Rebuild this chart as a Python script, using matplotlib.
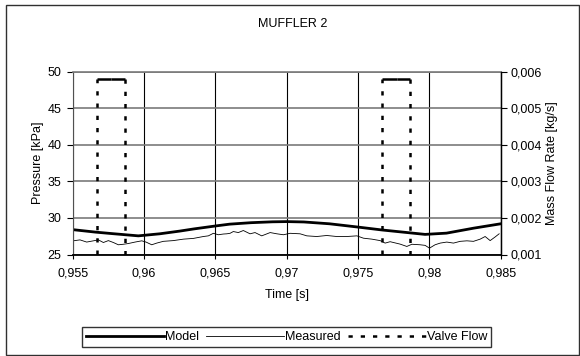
import matplotlib
matplotlib.use("Agg")
import matplotlib.pyplot as plt
from matplotlib.patches import Rectangle
from matplotlib.ticker import FuncFormatter

plt.rcParams["font.family"] = ["Liberation Sans", "DejaVu Sans"]
plt.rcParams["font.size"] = 9

# values
model_t = [0.955, 0.9566, 0.9578, 0.9587, 0.9596, 0.9611, 0.9625, 0.9635, 0.965, 0.9660,
           0.9675, 0.9690, 0.9700, 0.9712, 0.9730, 0.9750, 0.9767, 0.9787, 0.9797, 0.9812,
           0.9831, 0.9850]
model_p = [28.4, 28.06, 27.85, 27.7, 27.55, 27.83, 28.2, 28.5, 28.9, 29.15,
           29.35, 29.47, 29.5, 29.45, 29.2, 28.75, 28.35, 27.95, 27.75, 27.92,
           28.6, 29.2]

measured_t = [0.95504, 0.95551, 0.95598, 0.95645, 0.9568, 0.95715, 0.9575, 0.95785, 0.9582, 0.95855,
              0.9589, 0.95937, 0.95984, 0.96014, 0.96054, 0.96089, 0.96135, 0.96205, 0.96276, 0.96346,
              0.96416, 0.96451, 0.96486, 0.96521, 0.96556, 0.9658, 0.96603, 0.96626, 0.96661, 0.96696,
              0.96743, 0.96778, 0.96825, 0.96884, 0.96931, 0.96977, 0.97024, 0.97094, 0.97141, 0.97211,
              0.97281, 0.97351, 0.97421, 0.97492, 0.97538, 0.97597, 0.97655, 0.9769, 0.97725, 0.97795,
              0.97842, 0.97877, 0.97935, 0.9797, 0.98001, 0.9804, 0.98076, 0.98122, 0.98169, 0.98216,
              0.98263, 0.98309, 0.98356, 0.98391, 0.98426, 0.98461, 0.98489]
measured_p = [26.87, 27.0, 26.7, 26.87, 27.0, 26.64, 26.9, 26.64, 26.33, 26.4,
              26.5, 26.7, 26.87, 26.7, 26.33, 26.56, 26.8, 26.9, 27.1, 27.2,
              27.46, 27.55, 27.9, 27.7, 27.8, 27.83, 27.9, 28.14, 28.0, 28.28,
              27.83, 28.0, 27.55, 28.0, 27.83, 27.7, 27.9, 27.83, 27.55, 27.46,
              27.6, 27.46, 27.46, 27.55, 27.23, 27.1, 26.9, 26.56, 26.75, 26.42,
              26.1, 26.4, 26.33, 26.25, 25.87, 26.33, 26.56, 26.7, 26.56, 26.8,
              26.87, 26.8, 27.1, 27.46, 26.9, 27.4, 27.83]

valve_t = [0.955, 0.9567, 0.9567, 0.9577, 0.95865, 0.95865, 0.9767, 0.9767, 0.9777, 0.97865, 0.97865, 0.985]
valve_flow = [0.0, 0.0, 0.0058, 0.0058, 0.0058, 0.0, 0.0, 0.0058, 0.0058, 0.0058, 0.0, 0.0]

time_ticks = [0.955, 0.96, 0.965, 0.97, 0.975, 0.98, 0.985]
pressure_ticks = [25, 30, 35, 40, 45, 50]
flow_ticks = [0.001, 0.002, 0.003, 0.004, 0.005, 0.006]


def comma(v, pos=None):
    return f"{v:g}".replace(".", ",")


W, H = 580, 356
fig = plt.figure(figsize=(W / 100, H / 100), dpi=100)
fig.patches.append(Rectangle((6 / W, 1 - 355 / H), 573 / W, 350 / H, transform=fig.transFigure,
                             fill=False, edgecolor="#303030", linewidth=1.0))

ax = fig.add_axes([72.7 / W, 1 - 254.5 / H, 428 / W, 182.8 / H])
ax2 = ax.twinx()

ax.set_xlim(0.955, 0.985)
ax.set_ylim(25, 50)
ax2.set_ylim(0.001, 0.006)
ax.set_xticks(time_ticks)
ax.set_yticks(pressure_ticks)
ax2.set_yticks(flow_ticks)
ax.xaxis.set_major_formatter(FuncFormatter(comma))
ax2.yaxis.set_major_formatter(FuncFormatter(comma))

ax.grid(axis="y", color="#7a7a7a", linewidth=1.2)
ax.grid(axis="x", color="black", linewidth=0.8)

ax.spines["top"].set_color("#7a7a7a")
ax.spines["top"].set_linewidth(1.2)
ax.spines["left"].set_color("#505050")
ax.spines["bottom"].set_linewidth(1.3)
for s in ax2.spines.values():
    s.set_visible(False)
ax2.spines["right"].set_visible(True)
ax2.spines["right"].set_linewidth(1.0)

ax.tick_params(axis="x", direction="out", length=3, width=0.8, pad=6)
ax.tick_params(axis="y", direction="out", length=4, width=0.8, pad=4)
ax2.tick_params(axis="y", direction="out", length=4, width=0.8, pad=3.3)

model_line, = ax.plot(model_t, model_p, color="black", linewidth=2.0, label="Model")
meas_line, = ax.plot(measured_t, measured_p, color="black", linewidth=0.6, label="Measured")

dash = (1.7, 3.2)
valve_line = None
for i in range(len(valve_t) - 1):
    seg_t = valve_t[i:i + 2]
    seg_f = valve_flow[i:i + 2]
    if seg_f[0] > 0 and seg_f[1] > 0:
        ax2.plot(seg_t, seg_f, color="black", linewidth=1.8, solid_capstyle="butt")
    else:
        ln, = ax2.plot(seg_t, seg_f, color="black", linewidth=1.8, dashes=dash,
                       dash_capstyle="butt", label="Valve Flow")
        valve_line = ln

ax.set_xlabel("Time [s]")
ax.xaxis.set_label_coords(0.5, -0.19)
ax.set_ylabel("Pressure [kPa]")
ax.yaxis.set_label_coords(-0.068, 0.5)
ax2.set_ylabel("Mass Flow Rate [kg/s]")
ax2.yaxis.set_label_coords(1.106, 0.5)

fig.text(293 / W, 1 - 24 / H, "MUFFLER 2", ha="center", va="center")

leg = fig.legend([model_line, meas_line, valve_line], ["Model", "Measured", "Valve Flow"],
                 loc="center", bbox_to_anchor=(286.7 / W, 1 - 337 / H), ncol=3,
                 frameon=True, fancybox=False, handlelength=6.2, handletextpad=0.1,
                 columnspacing=0.6, borderpad=0.3, borderaxespad=0)
leg.get_frame().set_edgecolor("black")
leg.get_frame().set_linewidth(1.0)

fig.savefig("out.png", dpi=100)
